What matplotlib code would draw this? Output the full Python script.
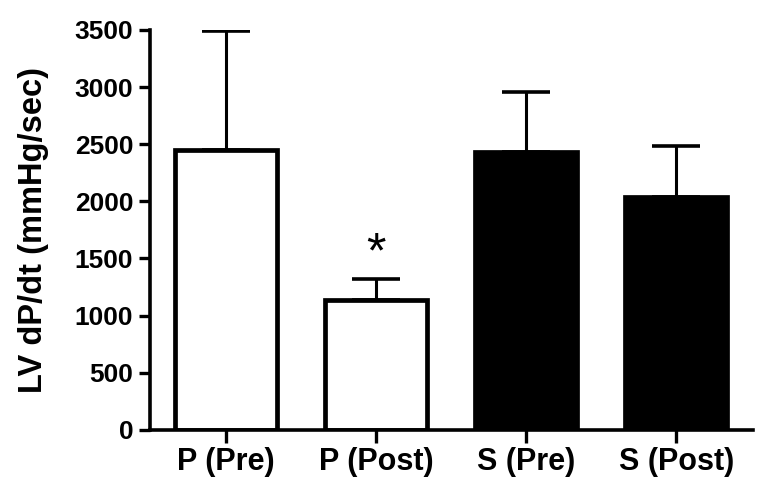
import matplotlib
matplotlib.use("Agg")
import matplotlib.pyplot as plt

categories = ["P (Pre)", "P (Post)", "S (Pre)", "S (Post)"]
means = [2450, 1135, 2430, 2035]
errors = [1040, 185, 530, 450]
colors = ["white", "white", "black", "black"]
yticks = [0, 500, 1000, 1500, 2000, 2500, 3000, 3500]

plt.rcParams['font.family'] = ['Liberation Sans', 'DejaVu Sans']
fig = plt.figure(figsize=(7.65, 4.94), dpi=100)
ax = fig.add_axes([0.196, 0.1296, 0.788, 0.81])

x = list(range(len(categories)))
ax.bar(x, means, width=0.68, color=colors, edgecolor="black", linewidth=3.4, zorder=2)
for xi, m, e in zip(x, means, errors):
    ax.errorbar([xi], [m], yerr=[[0], [e]], fmt="none", ecolor="black",
                elinewidth=2.2, capsize=17, capthick=2.6, zorder=1)

ax.text(1, 1420, "*", ha="center", va="baseline", fontsize=36, fontweight="normal")

ax.set_xlim(-0.505, 3.51)
ax.set_ylim(0, 3500)
ax.set_yticks(yticks)
ax.set_yticklabels([str(t) for t in yticks], fontsize=19, fontweight="bold")
ax.set_xticks(x)
ax.set_xticklabels(categories, fontsize=22, fontweight="bold")
ax.set_ylabel("LV dP/dt (mmHg/sec)", fontsize=23.5, fontweight="bold")
ax.yaxis.set_label_coords(-0.168, 0.5)

for s in ["top", "right"]:
    ax.spines[s].set_visible(False)
for s in ["left", "bottom"]:
    ax.spines[s].set_linewidth(2.6)
ax.tick_params(axis="y", width=2.4, length=8, direction="out", pad=4)
ax.tick_params(axis="x", width=2.4, length=9, direction="out", pad=3)
ax.spines["bottom"].set_zorder(3)

fig.savefig("out.png", dpi=100)
